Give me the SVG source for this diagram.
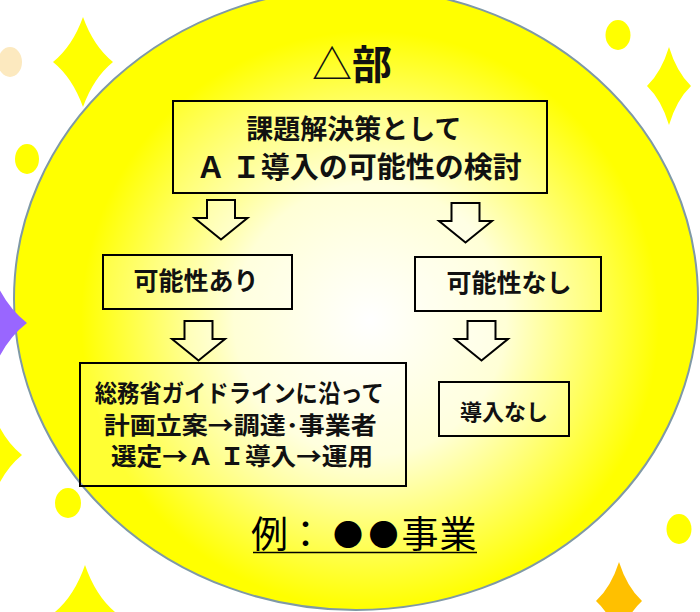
<svg xmlns="http://www.w3.org/2000/svg" width="700" height="612" viewBox="0 0 700 612">
  <defs>
    <radialGradient id="discFill" gradientUnits="userSpaceOnUse" cx="370" cy="320" r="340">
      <stop offset="0" stop-color="#ffffff"/>
      <stop offset="0.4" stop-color="#ffffd6"/>
      <stop offset="0.85" stop-color="#ffff00"/>
      <stop offset="1" stop-color="#ffff00"/>
    </radialGradient>
    <path id="downArrow" d="M-14,0 H14 V18 H26.5 L0,39.5 L-26.5,18 H-14 Z"/>
    <style>
      .box { fill: #ffffff; fill-opacity: 0.2; stroke: #000; stroke-width: 2; }
      .arrow { fill: #ffffff; fill-opacity: 0.35; stroke: #000; stroke-width: 2; stroke-linejoin: miter; }
      .label { font-family: "Noto Sans CJK JP", "Noto Sans", sans-serif; font-weight: bold; fill: #111; text-anchor: middle; }
      .plain { font-family: "Noto Sans CJK JP", "Noto Sans", sans-serif; font-weight: normal; fill: #000; }
      .sparkY { fill: #ffff00; }
    </style>
  </defs>

  <!-- background sparkles and dots -->
  <g id="decor">
    <ellipse cx="10" cy="62" rx="12" ry="15" fill="#fce9bf"/>
    <ellipse class="sparkY" cx="27" cy="159" rx="12" ry="15"/>
    <ellipse class="sparkY" cx="618" cy="35" rx="12.5" ry="15"/>
    <ellipse class="sparkY" cx="68" cy="503" rx="13" ry="15"/>
    <ellipse class="sparkY" cx="679" cy="529" rx="12.5" ry="15"/>
    <path class="sparkY" d="M83,17 Q93.5,46.25 113,62 Q93.5,77.75 83,107 Q72.5,77.75 53,62 Q72.5,46.25 83,17Z"/>
    <path class="sparkY" d="M669,47 Q676.7,72.35 691,86 Q676.7,99.65 669,125 Q661.3,99.65 647,86 Q661.3,72.35 669,47Z"/>
    <path class="sparkY" d="M-8,410 Q2.5,439.25 22,455 Q2.5,470.75 -8,500 Q-18.5,470.75 -38,455 Q-18.5,439.25 -8,410Z"/>
    <path class="sparkY" d="M85,565 Q95.5,595.55 115,612 Q95.5,628.45 85,659 Q74.5,628.45 55,612 Q74.5,595.55 85,565Z"/>
    <path fill="#ffc000" d="M619,562 Q627.05,587.35 642,601 Q627.05,614.65 619,640 Q610.95,614.65 596,601 Q610.95,587.35 619,562Z"/>
  </g>

  <!-- main disc -->
  <ellipse id="disc" cx="356" cy="299" rx="342" ry="311" fill="url(#discFill)" stroke="#7f99a6" stroke-width="2"/>

  <!-- purple sparkle overlapping the disc edge -->
  <path fill="#9966ff" d="M-8,273 Q4.25,305.5 27,323 Q4.25,340.5 -8,373 Q-20.25,340.5 -43,323 Q-20.25,305.5 -8,273Z"/>

  <!-- title -->
  <text id="title" class="label" x="352" y="79" font-size="40"><tspan font-weight="normal">△</tspan>部</text>

  <!-- connectors -->
  <g id="connectors">
    <use class="arrow" href="#downArrow" transform="translate(221,200)"/>
    <use class="arrow" href="#downArrow" transform="translate(465.5,203)"/>
    <use class="arrow" href="#downArrow" transform="translate(198.5,321)"/>
    <use class="arrow" href="#downArrow" transform="translate(481.5,321)"/>
  </g>

  <g id="node-review">
    <rect class="box" x="173" y="101" width="374" height="92"/>
    <text class="label" font-size="27">
      <tspan x="357" y="139">課題解決策として</tspan>
      <tspan x="359" y="177.5" font-size="29">Ａ Ｉ導入の可能性の検討</tspan>
    </text>
  </g>

  <g id="node-possible">
    <rect class="box" x="103" y="255" width="189" height="54"/>
    <text class="label" x="196" y="290" font-size="25">可能性あり</text>
  </g>

  <g id="node-not-possible">
    <rect class="box" x="415" y="257" width="186" height="54"/>
    <text class="label" x="509" y="292" font-size="25">可能性なし</text>
  </g>

  <g id="node-plan">
    <rect class="box" x="80" y="363" width="326" height="123"/>
    <text class="label" font-size="24" lengthAdjust="spacingAndGlyphs">
      <tspan x="242" y="401.5" textLength="289" lengthAdjust="spacingAndGlyphs">総務省ガイドラインに沿って</tspan>
      <tspan x="243" y="433.5" textLength="273" lengthAdjust="spacingAndGlyphs">計画立案→調達･事業者</tspan>
      <tspan x="242" y="465" textLength="262" lengthAdjust="spacingAndGlyphs">選定→Ａ Ｉ導入→運用</tspan>
    </text>
  </g>

  <g id="node-none">
    <rect class="box" x="439" y="382" width="130" height="54"/>
    <text class="label" x="504" y="419.5" font-size="22">導入なし</text>
  </g>

  <g id="caption">
    <text class="plain" y="547.5" font-size="37"><tspan x="251">例</tspan><tspan x="287">：</tspan><tspan x="333" y="546" font-size="30">●</tspan><tspan x="368.5" y="546" font-size="30">●</tspan><tspan x="401.5" y="547.5">事</tspan><tspan x="439.5">業</tspan></text>
    <line x1="253" y1="552.5" x2="477" y2="552.5" stroke="#000" stroke-width="1.6"/>
  </g>
</svg>
